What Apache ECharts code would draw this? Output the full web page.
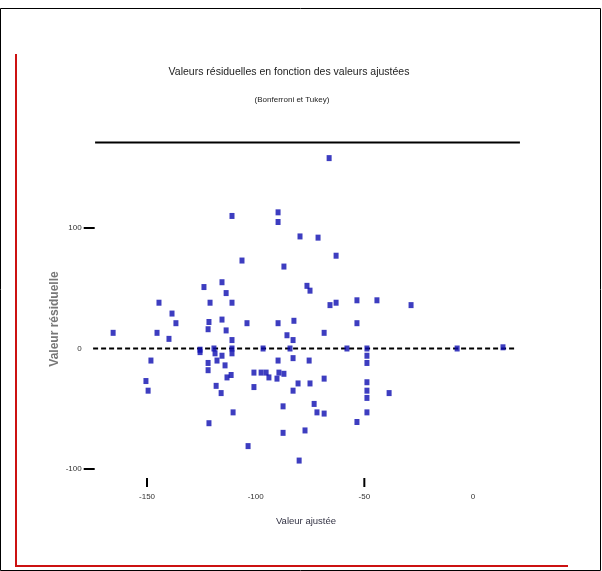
<!DOCTYPE html>
<html>
<head>
<meta charset="utf-8">
<script src="https://cdn.jsdelivr.net/npm/echarts@6/dist/echarts.min.js"></script>
<style>html,body{margin:0;padding:0;background:#fff}#c{width:602px;height:571px}</style>
</head>
<body>
<div id="c"></div>
<script>
// Fitted values (x) and residuals (y)
const fittedX = [
 -66.2,-110.9,-89.7,-89.7,-79.6,-71.3,-63.0,-106.3,-87.0,-115.5,
 -123.8,-113.6,-76.4,-75.0,-144.5,-138.5,-136.7,-121.0,-110.9,-63.0,
 -65.8,-53.4,-44.2,-28.5,-165.6,-145.4,-139.9,-121.5,-115.5,-121.9,
 -113.6,-104.0,-89.7,-82.4,-85.6,-82.8,-110.9,-125.6,-119.2,-110.9,
 -96.6,-84.2,-53.4,-68.5,-58.0,-48.8,-48.8,-48.8,-7.3,13.8,
 -125.6,-118.7,-115.5,-110.9,-121.9,-121.9,-117.8,-114.1,-148.2,-89.7,
 -82.8,-75.4,-113.2,-111.3,-100.8,-97.5,-95.2,-93.9,-90.2,-89.3,
 -87.0,-80.5,-82.8,-100.8,-118.2,-115.9,-150.5,-149.5,-68.5,-75.0,
 -48.8,-48.8,-48.8,-38.6,-110.4,-48.8,-53.4,-121.5,-87.4,-73.1,
 -71.8,-68.5,-87.4,-77.3,-103.5,-80.0
];
const residualY = [
 158,110,113,105,93,92,77,73,68,55,
 51,46,52,48,38,29,21,38,38,38,
 36,40,40,36,13,13,8,22,24,16,
 15,21,21,23,11,7,7,-1,0,0,
 0,0,21,13,0,0,-6,-12,0,1,
 -3,-4,-6,-4,-12,-18,-10,-14,-10,-10,
 -8,-10,-24,-22,-20,-20,-20,-24,-25,-20,
 -21,-29,-35,-32,-31,-37,-27,-35,-25,-29,
 -28,-35,-41,-37,-53,-53,-61,-62,-48,-46,
 -53,-54,-70,-68,-81,-93
];
// Reference lines
const zeroLineX = [-178.5, 19.3];
const zeroLineY = [0, 0];
const upperLineX = [-173.9, 21.6];
const upperLineY = [171, 171];
// Tick marks drawn (only some labels carry a tick)
const xTickMarks = [-150, -50];
const yTickMarks = [100, -100];
const xRange = [-175, 22];
const yRange = [-100, 180];

const pts = fittedX.map((x, i) => [x, residualY[i]]);

const chart = echarts.init(document.getElementById('c'));
const labelStyle = {fontFamily: 'Liberation Sans, Arial, sans-serif', fontSize: 8, color: '#333'};

chart.setOption({
  animation: false,
  grid: {left: 92.7, right: 81.2, top: 131.6, bottom: 102},
  xAxis: {
    type: 'value', min: xRange[0], max: xRange[1], splitNumber: 4,
    axisLine: {show: false}, axisTick: {show: false}, splitLine: {show: false},
    axisLabel: Object.assign({margin: 24, showMinLabel: false, showMaxLabel: false}, labelStyle)
  },
  yAxis: {
    type: 'value', min: yRange[0], max: yRange[1], interval: 100,
    axisLine: {show: false}, axisTick: {show: false}, splitLine: {show: false},
    axisLabel: Object.assign({margin: 11, showMaxLabel: false}, labelStyle)
  },
  graphic: [
    {type: 'rect', shape: {x: 0.5, y: 8.5, width: 600, height: 562}, style: {fill: 'none', stroke: '#000', lineWidth: 1}, silent: true},
    {type: 'polyline', shape: {points: [[16, 54], [16, 566], [568, 566]]}, style: {fill: 'none', stroke: '#cc1111', lineWidth: 2}, silent: true},
    {type: 'text', x: 289, y: 72, style: {text: 'Valeurs résiduelles en fonction des valeurs ajustées', font: '10.5px "Liberation Sans", Arial', fill: '#222', align: 'center', verticalAlign: 'middle'}},
    {type: 'text', x: 292, y: 100, style: {text: '(Bonferroni et Tukey)', font: '8px "Liberation Sans", Arial', fill: '#222', align: 'center', verticalAlign: 'middle'}},
    {type: 'text', x: 306, y: 521, style: {text: 'Valeur ajustée', font: '9.5px "Liberation Sans", Arial', fill: '#334', align: 'center', verticalAlign: 'middle'}},
    {type: 'text', x: 55, y: 319, rotation: Math.PI / 2, style: {text: 'Valeur résiduelle', font: 'bold 12px "Liberation Sans", Arial', fill: '#777', align: 'center', verticalAlign: 'middle'}}
  ],
  series: [
    {
      type: 'line', data: zeroLineX.map((x, i) => [x, zeroLineY[i]]), clip: false,
      symbol: 'none', lineStyle: {color: '#000', width: 2, type: [5, 3]}, silent: true, z: 1
    },
    {
      type: 'line', data: upperLineX.map((x, i) => [x, upperLineY[i]]), clip: false,
      symbol: 'none', lineStyle: {color: '#000', width: 2}, silent: true, z: 1
    },
    {
      type: 'custom', clip: false, silent: true, data: xTickMarks.map(v => [v]),
      renderItem: (params, api) => {
        const p = api.coord([api.value(0), yRange[0]]);
        return {type: 'line', shape: {x1: p[0], y1: p[1] + 9, x2: p[0], y2: p[1] + 18}, style: {stroke: '#000', lineWidth: 2}};
      }
    },
    {
      type: 'custom', clip: false, silent: true, data: yTickMarks.map(v => [0, v]),
      renderItem: (params, api) => {
        const p = api.coord([xRange[0], api.value(1)]);
        return {type: 'line', shape: {x1: p[0] - 9, y1: p[1], x2: p[0] + 2, y2: p[1]}, style: {stroke: '#000', lineWidth: 2}};
      }
    },
    {
      type: 'scatter', data: pts, symbol: 'rect', symbolSize: [5, 6],
      itemStyle: {color: '#0c0cb0'}, z: 3
    }
  ]
});
</script>
</body>
</html>
